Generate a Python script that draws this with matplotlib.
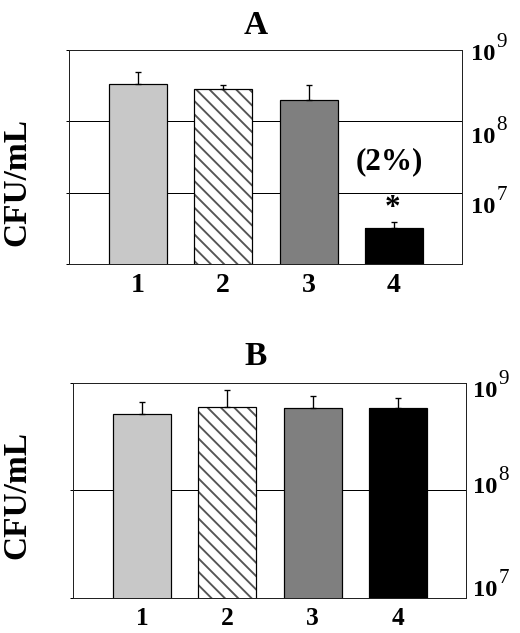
import matplotlib
matplotlib.use('Agg')
import matplotlib.pyplot as plt
import numpy as np
from matplotlib.ticker import NullLocator

# Panel data (CFU/mL)
categories = ['1', '2', '3', '4']
a_means = [3.3e8, 2.8e8, 2.0e8, 3.2e6]
a_err_top = [4.9e8, 3.2e8, 3.2e8, 3.9e6]
b_means = [5.1e8, 5.9e8, 5.8e8, 5.8e8]
b_err_top = [6.6e8, 8.6e8, 7.6e8, 7.2e8]
a_decades = [1e6, 1e7, 1e8, 1e9]
b_decades = [1e7, 1e8, 1e9]
a_right_labels = [9, 8, 7]
b_right_labels = [9, 8, 7]
a_note = '(2%)'
a_star = '*'

bar_colors = ['#c8c8c8', 'white', '#7f7f7f', 'black']
hatch_edge = ['black', '#555555', 'black', 'black']
bar_hatches = ['', '\\\\', '', '']

plt.rcParams['font.family'] = ['Liberation Serif', 'DejaVu Serif']
plt.rcParams['hatch.linewidth'] = 1.7


def draw_panel(ax, means, tops, decades, labels, label_dy, label_dx, xpad, xsize):
    x = np.arange(1, len(categories) + 1)
    means = np.array(means)
    tops = np.array(tops)

    ax.set_yscale('log')
    ax.set_ylim(decades[0], decades[-1])
    ax.set_xlim(0.19, 4.8)

    # gridlines at inner decades
    for v in decades[1:-1]:
        ax.axhline(v, color='black', lw=0.9, zorder=1)

    bars = ax.bar(x, means, width=0.68, color=bar_colors, edgecolor=hatch_edge,
                  linewidth=0, zorder=2)
    for b, h in zip(bars, bar_hatches):
        if h:
            b.set_hatch(h)
    ax.bar(x, means, width=0.68, fill=False, edgecolor='black', linewidth=1.1, zorder=3)

    ax.errorbar(x, means, yerr=[np.zeros(len(x)), tops - means], fmt='none',
                ecolor='black', elinewidth=1.2, capsize=2.5, capthick=1.2, zorder=4)

    ax.set_yticks(decades)
    ax.yaxis.set_minor_locator(NullLocator())
    ax.tick_params(axis='y', which='both', left=True, right=False, length=3,
                   width=0.9, labelleft=False, labelright=False)
    ax.set_xticks(x)
    ax.set_xticklabels(categories, fontsize=xsize, fontweight='bold')
    ax.tick_params(axis='x', length=0, pad=xpad)
    for s in ax.spines.values():
        s.set_linewidth(0.9)
        s.set_color('#222222')

    # right side 10^n labels
    for e, dy in zip(labels, label_dy):
        base = ax.annotate('10', xy=(1, 10.0 ** e), xycoords=('axes fraction', 'data'),
                           xytext=(label_dx, -dy), textcoords='offset pixels',
                           ha='left', va='center', fontsize=22, fontweight='bold',
                           annotation_clip=False)
        ax.annotate(str(e), xy=(1, 0.5), xycoords=base, xytext=(1, 12),
                    textcoords='offset pixels', ha='left', va='center',
                    fontsize=19, annotation_clip=False)
    return x


fig = plt.figure(figsize=(6.5, 7.9125), dpi=80)
axA = fig.add_axes([69 / 520, 1 - 264 / 633, 393 / 520, 214.3 / 633])
axB = fig.add_axes([73 / 520, 1 - 597.7 / 633, 393 / 520, 215 / 633])

draw_panel(axA, a_means, a_err_top, a_decades, a_right_labels, [5, 16, 15], 9, 8, 25)
draw_panel(axB, b_means, b_err_top, b_decades, b_right_labels, [9, -3, -7], 7, 8.5, 23)

axA.text(3.95, 2.7e7, a_note, ha='center', va='center', fontsize=28, fontweight='bold')
axA.text(3.98, 5.9e6, a_star, ha='center', va='center', fontsize=28, fontweight='bold')

fig.text(256 / 520, 1 - 25 / 633, 'A', ha='center', va='center', fontsize=30, fontweight='bold')
fig.text(256 / 520, 1 - 356.7 / 633, 'B', ha='center', va='center', fontsize=30, fontweight='bold')
fig.text(17 / 520, 1 - 182 / 633, 'CFU/mL', rotation=90, ha='center', va='center',
         fontsize=30, fontweight='bold')
fig.text(17 / 520, 1 - 495 / 633, 'CFU/mL', rotation=90, ha='center', va='center',
         fontsize=30, fontweight='bold')

fig.savefig('out.png', dpi=80)
